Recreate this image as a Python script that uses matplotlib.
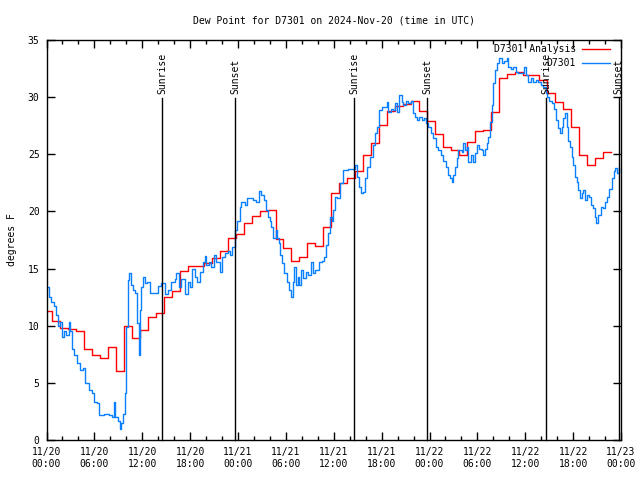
import matplotlib
matplotlib.use("Agg")
import matplotlib.pyplot as plt

# Hourly analysis values (first value holds until the first step at ~00:42)
red_hours = [0.0] + [k + 0.7 for k in range(70)] + [70.8]
red_vals = [11.3, 10.4, 9.8, 9.7, 9.5, 8.0, 7.4, 7.2, 8.1, 6.0,
            10.0, 8.9, 9.6, 10.8, 11.1, 12.5, 13.0, 14.8, 15.2, 15.2,
            15.5, 15.9, 16.5, 17.7, 18.0, 19.0, 19.6, 20.0, 20.1, 17.6,
            16.8, 15.7, 16.0, 17.2, 17.0, 18.6, 21.6, 22.5, 22.9, 23.5,
            24.9, 26.0, 27.6, 28.8, 29.2, 29.4, 29.7, 28.8, 27.9, 26.8,
            25.6, 25.4, 24.9, 26.1, 27.0, 27.1, 28.7, 31.7, 32.0, 32.2,
            31.9, 31.9, 31.5, 30.4, 29.6, 29.0, 27.4, 24.9, 24.1, 24.7,
            25.2]
red_vals = red_vals + [red_vals[-1]]

# Station observations (hours since 11/20 00:00 UTC)
blue_hours = [0.0, 0.25, 0.5, 0.88, 1.22, 1.38, 1.63, 1.88, 2.13, 2.47,
              2.76, 2.97, 3.17, 3.39, 3.76, 4.14, 4.52, 4.86, 5.27, 5.68,
              5.90, 6.31, 6.61, 7.15, 7.78, 8.16, 8.41, 8.62, 8.91, 9.16,
              9.37, 9.54, 9.75, 9.87, 10.0, 10.16, 10.38, 10.58, 10.83, 11.13,
              11.33, 11.54, 11.63, 11.76, 11.88, 12.05, 12.3, 12.58, 12.92, 13.55,
              13.96, 14.39, 14.81, 15.22, 15.65, 16.06, 16.27, 16.6, 16.9, 17.31,
              17.73, 18.03, 18.28, 18.57, 18.86, 19.2, 19.61, 19.82, 20.04, 20.36,
              20.67, 20.95, 21.29, 21.58, 21.79, 22.05, 22.33, 22.75, 23.05, 23.25,
              23.59, 23.88, 24.22, 24.43, 24.84, 25.13, 25.47, 25.88, 26.31, 26.64,
              26.94, 27.23, 27.48, 27.77, 27.98, 28.19, 28.39, 28.73, 28.9, 29.15,
              29.32, 29.57, 29.77, 30.08, 30.4, 30.61, 30.83, 31.03, 31.24, 31.46,
              31.66, 31.87, 32.16, 32.5, 32.79, 33.09, 33.34, 33.63, 33.91, 34.17,
              34.47, 34.76, 35.01, 35.29, 35.51, 35.72, 35.92, 36.14, 36.42, 36.76,
              37.18, 37.8, 38.65, 38.86, 39.15, 39.36, 39.61, 39.9, 40.19, 40.53,
              40.87, 41.15, 41.37, 41.69, 41.99, 42.41, 42.62, 42.82, 43.12, 43.37,
              43.66, 43.95, 44.2, 44.5, 44.71, 45.04, 45.33, 45.63, 45.88, 46.17,
              46.39, 46.71, 47.01, 47.3, 47.55, 47.84, 48.14, 48.47, 48.81, 49.1,
              49.44, 49.72, 50.06, 50.35, 50.56, 50.78, 50.98, 51.19, 51.4, 51.61,
              51.82, 52.03, 52.23, 52.45, 52.66, 52.86, 53.16, 53.41, 53.7, 53.99,
              54.24, 54.54, 54.74, 54.96, 55.17, 55.37, 55.58, 55.8, 56.0, 56.21,
              56.5, 56.75, 57.05, 57.34, 57.68, 57.88, 58.18, 58.51, 58.85, 59.13,
              59.56, 59.85, 60.1, 60.39, 60.69, 61.02, 61.36, 61.64, 61.94, 62.27,
              62.61, 62.77, 63.02, 63.32, 63.61, 63.86, 64.15, 64.37, 64.58, 64.78,
              64.99, 65.2, 65.4, 65.62, 65.83, 66.04, 66.25, 66.46, 66.66, 66.88,
              67.09, 67.29, 67.5, 67.79, 68.04, 68.22, 68.47, 68.76, 68.88, 69.17,
              69.47, 69.72, 70.01, 70.3, 70.55, 70.88, 71.08, 71.29, 71.5, 71.71]
blue_vals = [13.4, 12.5, 12.1, 11.7, 10.9, 10.0, 10.3, 9.0, 9.5, 9.2,
             10.3, 9.5, 8.0, 7.4, 6.7, 6.1, 6.3, 5.0, 4.4, 4.1,
             3.3, 3.2, 2.2, 2.3, 2.2, 2.0, 3.3, 2.0, 1.7, 1.0,
             1.5, 2.3, 2.3, 4.1, 9.9, 14.0, 14.6, 13.6, 13.1, 12.9,
             10.2, 8.5, 7.4, 11.4, 13.4, 14.3, 13.7, 13.8, 12.9, 12.9,
             13.5, 13.7, 12.8, 13.1, 13.8, 14.1, 14.6, 13.4, 14.1, 12.8,
             13.8, 13.4, 15.0, 14.3, 13.8, 14.7, 15.6, 16.1, 15.3, 15.6,
             15.1, 16.2, 15.6, 15.6, 14.7, 16.0, 16.4, 16.5, 16.2, 16.9,
             18.4, 19.2, 20.4, 20.8, 20.6, 21.2, 21.2, 21.0, 20.8, 21.8,
             21.4, 21.0, 20.1, 19.5, 19.2, 18.6, 17.7, 18.4, 17.7, 17.2,
             16.2, 15.5, 14.6, 13.8, 13.1, 12.5, 13.8, 15.1, 13.6, 14.3,
             13.6, 14.9, 14.2, 14.7, 14.4, 15.6, 14.6, 14.9, 14.9, 15.6,
             15.7, 16.0, 17.1, 18.1, 19.5, 19.2, 20.1, 21.3, 21.2, 22.5,
             23.6, 23.7, 24.1, 23.0, 22.1, 21.6, 21.7, 22.9, 23.9, 24.8,
             25.8, 26.9, 27.4, 28.9, 29.1, 29.1, 29.6, 28.7, 29.0, 28.9,
             29.5, 28.7, 30.2, 29.6, 29.3, 29.7, 29.5, 29.7, 28.6, 28.3,
             28.0, 28.3, 28.0, 28.2, 27.7, 27.4, 26.9, 26.4, 25.6, 25.4,
             24.9, 24.4, 23.9, 23.2, 22.9, 22.6, 23.2, 23.9, 24.7, 25.4,
             25.4, 25.2, 26.0, 25.4, 25.6, 24.3, 24.9, 24.3, 25.1, 25.8,
             25.5, 25.4, 24.9, 25.5, 26.0, 26.5, 27.8, 29.3, 31.2, 32.4,
             33.0, 33.4, 33.0, 33.2, 33.4, 32.6, 32.5, 32.6, 32.2, 32.1,
             32.1, 32.6, 31.9, 31.3, 31.7, 31.3, 31.5, 31.3, 31.1, 30.9,
             30.4, 30.0, 29.7, 29.5, 29.0, 28.0, 27.3, 26.9, 27.4, 28.2,
             28.6, 27.4, 26.2, 25.6, 24.8, 24.1, 23.0, 22.6, 21.9, 21.2,
             21.6, 21.9, 21.0, 21.4, 21.3, 20.6, 20.3, 19.5, 19.0, 19.7,
             20.4, 20.3, 20.8, 21.3, 22.0, 22.9, 23.5, 23.8, 23.4, 23.8]

sun_hours = [14.52, 23.68, 38.57, 47.72, 62.6, 71.72]
sun_labels = ["Sunrise", "Sunset", "Sunrise", "Sunset", "Sunrise", "Sunset"]

xtick_hours = list(range(0, 73, 6))
xtick_labels = ["11/20\n00:00", "11/20\n06:00", "11/20\n12:00", "11/20\n18:00",
                "11/21\n00:00", "11/21\n06:00", "11/21\n12:00", "11/21\n18:00",
                "11/22\n00:00", "11/22\n06:00", "11/22\n12:00", "11/22\n18:00",
                "11/23\n00:00"]
ytick_vals = [0, 5, 10, 15, 20, 25, 30, 35]

plt.rcParams['font.family'] = ['DejaVu Sans Mono']
plt.rcParams['font.size'] = 7

fig = plt.figure(figsize=(6.4, 4.8), dpi=100)
ax = fig.add_axes([0.0727, 0.0833, 0.8976, 0.8334])

ax.plot(red_hours, red_vals, drawstyle='steps-post', color='#ff0000', lw=1.0)
ax.plot(blue_hours, blue_vals, drawstyle='steps-post', color='#0a80ff', lw=1.0)

for h, lab in zip(sun_hours, sun_labels):
    ax.plot([h, h], [0, 29.9], color='black', lw=1.0, clip_on=False)
    ax.text(h, 30.3, lab, rotation=90, ha='center', va='bottom', fontsize=7, clip_on=False)

# gnuplot style key: right aligned text with sample line on the right
ax.text(0.922, 0.9775, "D7301 Analysis", transform=ax.transAxes, ha='right', va='center')
ax.plot([0.932, 0.981], [0.9775, 0.9775], transform=ax.transAxes, color='#ff0000', lw=1.0)
ax.text(0.922, 0.9425, "D7301", transform=ax.transAxes, ha='right', va='center')
ax.plot([0.932, 0.981], [0.9425, 0.9425], transform=ax.transAxes, color='#0a80ff', lw=1.0)

ax.set_xlim(0, 72)
ax.set_ylim(0, 35)
ax.set_xticks(xtick_hours)
ax.set_xticklabels(xtick_labels)
ax.set_xticks(range(0, 73, 2), minor=True)
ax.set_yticks(ytick_vals)
ax.tick_params(which='both', direction='in', top=True, right=True, width=1.0)
ax.tick_params(which='major', length=6, pad=5)
ax.tick_params(which='minor', length=3)
ax.tick_params(axis='y', which='minor', left=False, right=False)
for s in ax.spines.values():
    s.set_linewidth(1.0)

ax.set_ylabel("degrees F", labelpad=8)
ax.set_title("Dew Point for D7301 on 2024-Nov-20 (time in UTC)", pad=12, fontsize=7)

fig.savefig("out.png", dpi=100)
